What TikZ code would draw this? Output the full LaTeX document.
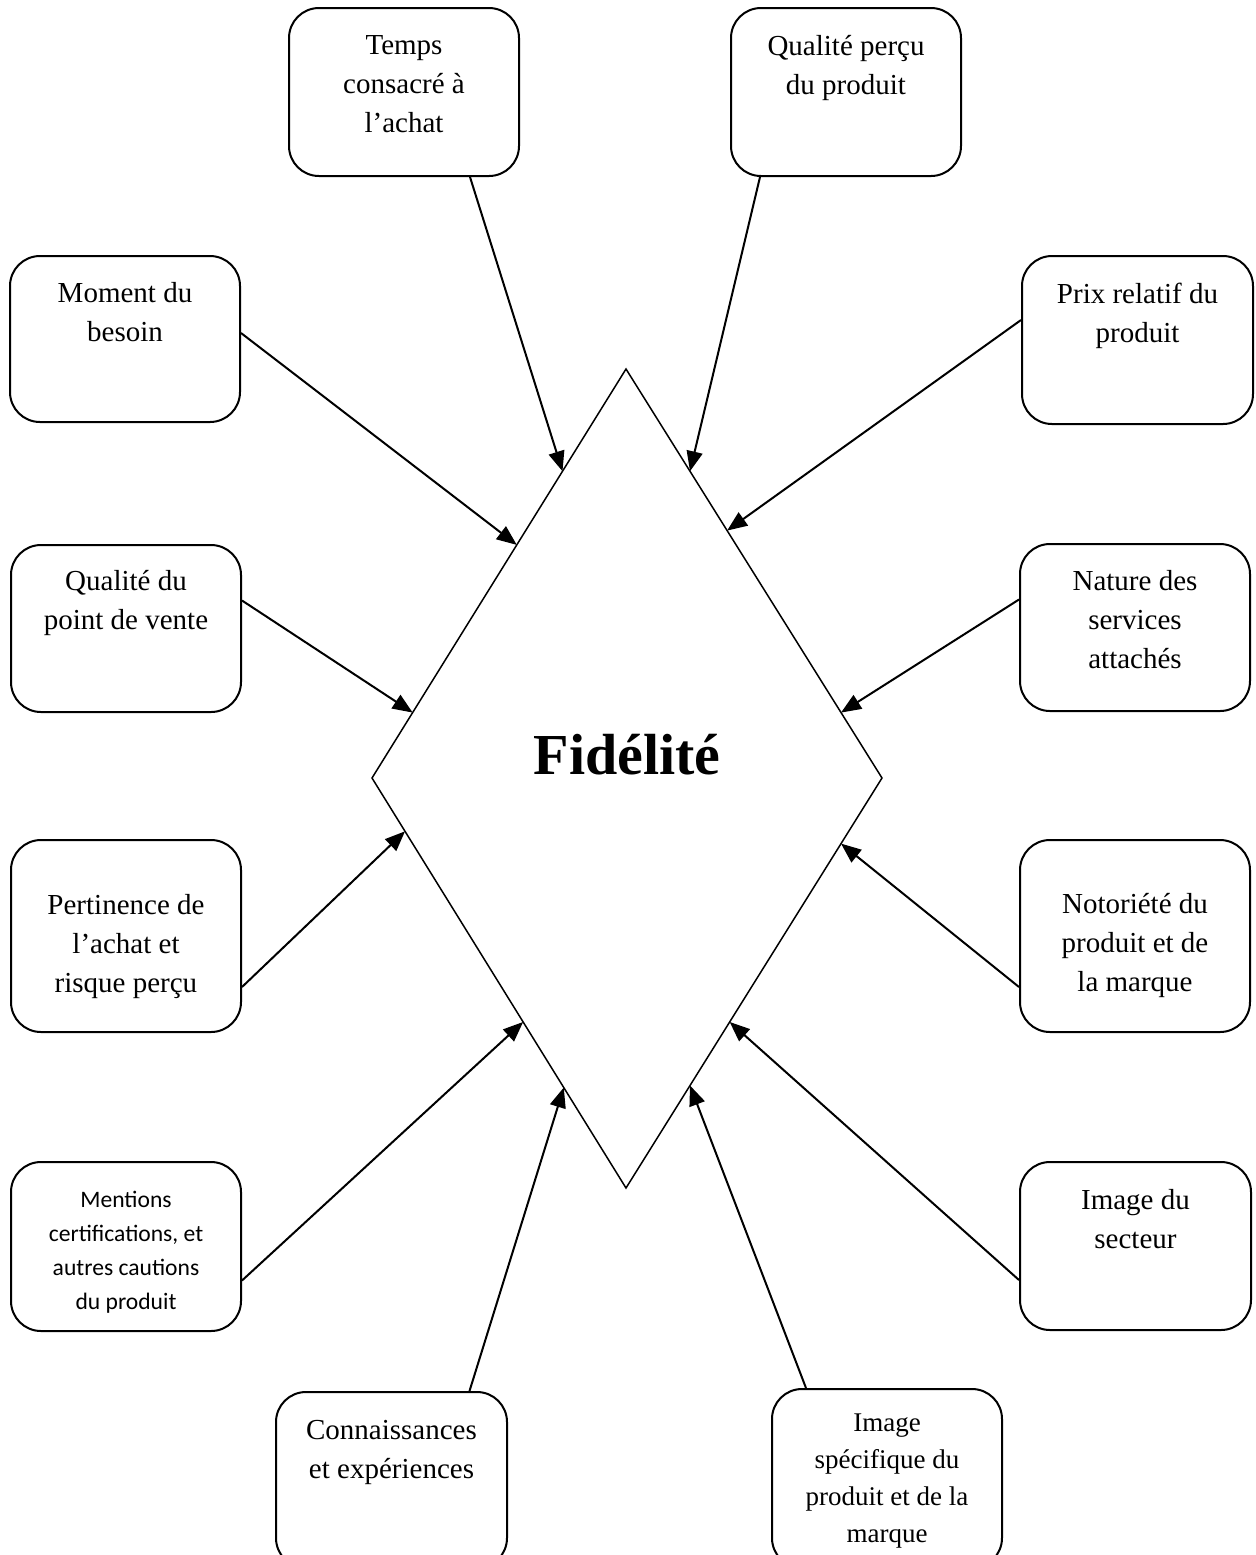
\documentclass[tikz,border=0pt]{standalone}
\usepackage{fontspec}
\setmainfont{Liberation Serif}
\newfontfamily\calfont{Carlito}
\usetikzlibrary{arrows.meta,calc}
\begin{document}
\begin{tikzpicture}[x=0.5pt,y=-0.5pt,
  box/.style={draw,line width=1pt,rounded corners=15pt,inner sep=0pt,minimum width=115pt},
  txt/.style={align=center,inner sep=0pt,anchor=north,font=\fontsize{14.5}{19.5}\selectfont},
  arr/.style={line width=1pt,-{Triangle[length=10pt,width=8pt]}},
]
\useasboundingbox (0,0) rectangle (1256,1555);
\clip (0,0) rectangle (1256,1555);

% central diamond
\coordinate (dT) at (626,369);
\coordinate (dL) at (372,778);
\coordinate (dB) at (626,1188);
\coordinate (dR) at (882,778);
\draw[line width=0.75pt] (dT) -- (dR) -- (dB) -- (dL) -- cycle;
\node[font=\bfseries\fontsize{29}{34}\selectfont,anchor=base,inner sep=0pt] (fid) at (627,774) {Fidélité};

% factor boxes
\node[box,minimum height=84pt] (temps) at (404,92) {};
\node[txt] (temps-t) at (404,35) {Temps\\consacré à\\l’achat};

\node[box,minimum height=84pt] (qual) at (846,92) {};
\node[txt] (qual-t) at (846,35) {Qualité perçu\\du produit};

\node[box,minimum height=83pt] (moment) at (125,339) {};
\node[txt] (moment-t) at (125,282) {Moment du\\besoin};

\node[box,minimum height=84pt,minimum width=115.5pt] (prix) at (1137.5,340) {};
\node[txt] (prix-t) at (1137.5,283) {Prix relatif du\\produit};

\node[box,minimum height=83.5pt] (qpv) at (126,628.5) {};
\node[txt] (qpv-t) at (126,570) {Qualité du\\point de vente};

\node[box,minimum height=83.5pt] (nature) at (1135,627.5) {};
\node[txt] (nature-t) at (1135,570) {Nature des\\services\\attachés};

\node[box,minimum height=96pt] (pert) at (126,936) {};
\node[txt] (pert-t) at (126,894) {Pertinence de\\l’achat et\\risque perçu};

\node[box,minimum height=96pt] (noto) at (1135,936) {};
\node[txt] (noto-t) at (1135,893) {Notoriété du\\produit et de\\la marque};

\node[box,minimum height=84.5pt] (mentions) at (126,1246.5) {};
\node[txt,font=\calfont\fontsize{11.8}{17}\selectfont] (mentions-t) at (126,1191) {Mentions\\certifications, et\\autres cautions\\du produit};

\node[box,minimum height=84pt,minimum width=115.5pt] (secteur) at (1135.5,1246) {};
\node[txt] (secteur-t) at (1135.5,1189) {Image du\\secteur};

\node[box,minimum height=88pt,minimum width=115.5pt] (conn) at (391.5,1480) {};
\node[txt] (conn-t) at (391.5,1420) {Connaissances\\et expériences};

\node[box,minimum height=89.5pt] (spec) at (887,1478.5) {};
\node[txt,font=\fontsize{13.5}{18.5}\selectfont] (spec-t) at (887,1413) {Image\\spécifique du\\produit et de la\\marque};

% arrow end points on the diamond
\coordinate (e-temps)    at ($(dT)!0.25!(dL)$);
\coordinate (e-moment)   at ($(dT)!0.43!(dL)$);
\coordinate (e-qpv)      at ($(dT)!0.84!(dL)$);
\coordinate (e-qual)     at ($(dT)!0.25!(dR)$);
\coordinate (e-prix)     at ($(dT)!0.395!(dR)$);
\coordinate (e-nature)   at ($(dT)!0.84!(dR)$);
\coordinate (e-pert)     at ($(dL)!0.13!(dB)$);
\coordinate (e-mentions) at ($(dL)!0.595!(dB)$);
\coordinate (e-conn)     at ($(dL)!0.755!(dB)$);
\coordinate (e-noto)     at ($(dR)!0.16!(dB)$);
\coordinate (e-secteur)  at ($(dR)!0.595!(dB)$);
\coordinate (e-spec)     at ($(dR)!0.75!(dB)$);

% arrows
\draw[arr] ([xshift=33pt]temps.south) -- (e-temps);
\draw[arr] ([xshift=-43pt]qual.south) -- (e-qual);
\draw[arr] ([yshift=3pt]moment.east) -- (e-moment);
\draw[arr] ([yshift=10pt]prix.west) -- (e-prix);
\draw[arr] ([yshift=14pt]qpv.east) -- (e-qpv);
\draw[arr] ([yshift=14pt]nature.west) -- (e-nature);
\draw[arr] ([yshift=-25.5pt]pert.east) -- (e-pert);
\draw[arr] ([yshift=-25.5pt]noto.west) -- (e-noto);
\draw[arr] ([yshift=-17pt]mentions.east) -- (e-mentions);
\draw[arr] ([yshift=-17pt]secteur.west) -- (e-secteur);
\draw[arr] ([xshift=39pt]conn.north) -- (e-conn);
\draw[arr] ([xshift=-40.5pt]spec.north) -- (e-spec);
\end{tikzpicture}
\end{document}
